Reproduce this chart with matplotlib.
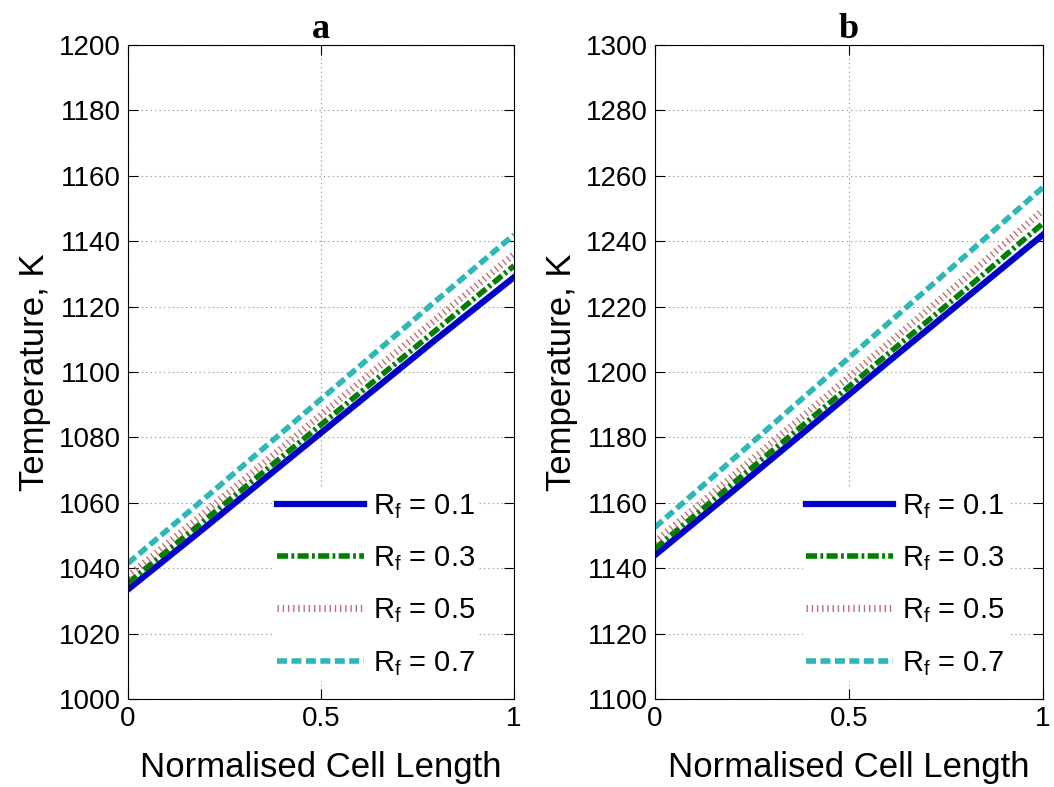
import matplotlib
matplotlib.use("Agg")
import matplotlib.pyplot as plt

plt.rcParams["font.family"] = ["Liberation Sans", "DejaVu Sans"]
plt.rcParams["mathtext.fontset"] = "custom"
plt.rcParams["mathtext.rm"] = "Liberation Sans"

x_pos = [0.0, 0.2, 0.4, 0.6, 0.8, 1.0]
rf_labels = ["0.1", "0.3", "0.5", "0.7"]

# panel a
temp_a_01 = [1033.5, 1052.5, 1071.8, 1091.0, 1110.2, 1129.0]
temp_a_03 = [1035.5, 1054.8, 1074.2, 1093.6, 1113.0, 1132.5]
temp_a_05 = [1037.5, 1057.2, 1077.0, 1096.8, 1116.4, 1136.0]
temp_a_07 = [1041.5, 1061.5, 1081.6, 1101.8, 1122.0, 1142.0]

# panel b
temp_b_01 = [1144.0, 1163.5, 1183.2, 1203.0, 1222.5, 1242.0]
temp_b_03 = [1146.0, 1165.8, 1185.6, 1205.5, 1225.2, 1245.5]
temp_b_05 = [1148.0, 1168.2, 1188.4, 1208.6, 1228.8, 1249.5]
temp_b_07 = [1152.5, 1173.2, 1194.0, 1214.8, 1235.6, 1256.5]

styles = [
    dict(color="#0000c8", ls="-", lw=4.5),
    dict(color="#007f00", ls=(0, (2.0, 0.6, 0.5, 0.6)), lw=4),
    dict(color="#c07070", ls=(0, (0.2, 0.55)), lw=5),
    dict(color="#2cb8b8", ls=(0, (1.8, 0.8)), lw=4),
]

fig = plt.figure(figsize=(10.54, 7.87), dpi=100)
ax_a = fig.add_axes([0.1214, 0.1118, 0.3663, 0.831])
ax_b = fig.add_axes([0.6214, 0.1118, 0.3682, 0.831])


def draw_panel(ax, series, ylim, title):
    for vals, rf, st in zip(series, rf_labels, styles):
        ax.plot(x_pos, vals, label="R$_\\mathregular{f}$ = " + rf, **st)
    ax.set_xlim(0, 1)
    ax.set_ylim(*ylim)
    ax.set_xticks([0, 0.5, 1])
    ax.set_xticklabels(["0", "0.5", "1"])
    ax.set_yticks(range(ylim[0], ylim[1] + 1, 20))
    ax.grid(True, color="#888888", ls=(0, (1, 3)), lw=0.8)
    ax.tick_params(direction="in", length=7, labelsize=20, right=True, top=True, pad=5)
    ax.set_xlabel("Normalised Cell Length", fontsize=25, labelpad=14)
    ax.set_ylabel("Temperature, K", fontsize=25, labelpad=6)
    ax.set_title(title, fontsize=26, fontweight="bold", family="Liberation Serif", pad=5)
    leg = ax.legend(loc="lower right", bbox_to_anchor=(0.93, 0.015), fontsize=21,
                    frameon=True, handlelength=3.0, labelspacing=0.8, handletextpad=0.3,
                    borderaxespad=0.3, borderpad=0.1)
    leg.get_frame().set_edgecolor("white")
    leg.get_frame().set_alpha(1.0)
    leg.get_frame().set_boxstyle("square", pad=0.0)


draw_panel(ax_a, [temp_a_01, temp_a_03, temp_a_05, temp_a_07], (1000, 1200), "a")
draw_panel(ax_b, [temp_b_01, temp_b_03, temp_b_05, temp_b_07], (1100, 1300), "b")

fig.savefig("out.png", dpi=100)
